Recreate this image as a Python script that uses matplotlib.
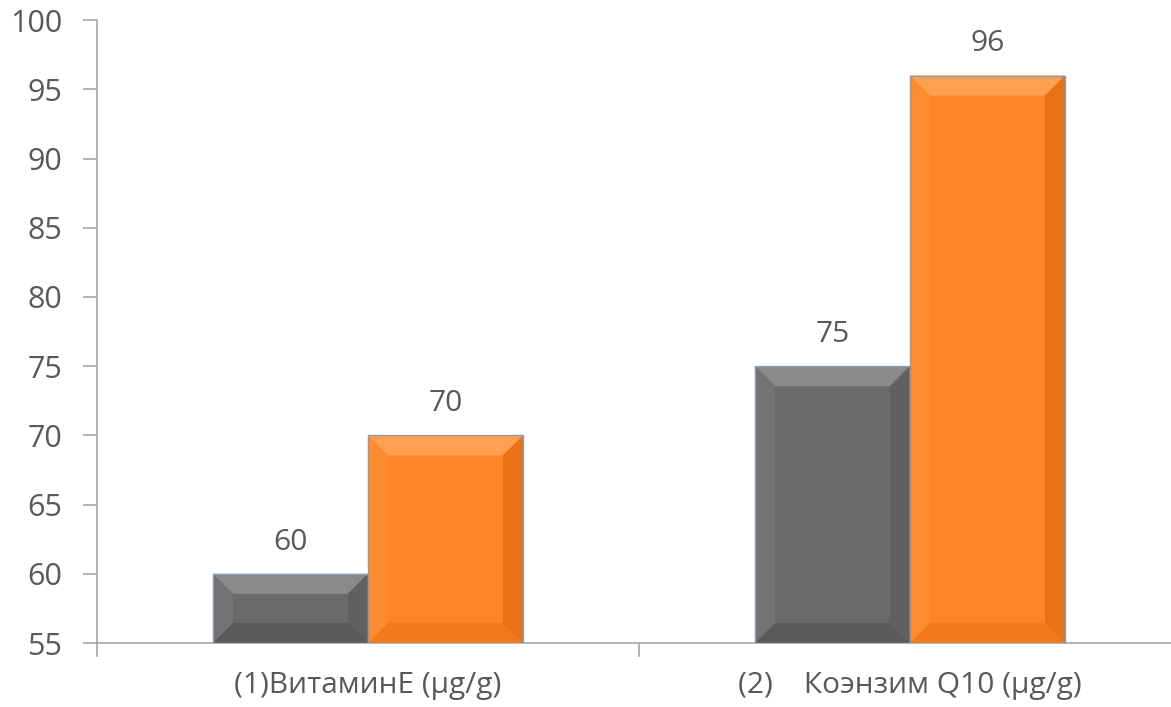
import matplotlib.pyplot as plt
from matplotlib.patches import Polygon

plt.rcParams['font.family'] = ['Open Sans', 'DejaVu Sans']

categories = ["(1)ВитаминE (µg/g)", "(2)    Коэнзим Q10 (µg/g)"]
series_gray = [60, 75]
series_orange = [70, 96]
y_ticks = [55, 60, 65, 70, 75, 80, 85, 90, 95, 100]

text_col = "#595959"
axis_col = "#a6a6a6"

# face colours for the bevel: centre, top, bottom, left, right
gray_faces = ["#6a6a6a", "#8a8a8a", "#5a5a5a", "#737373", "#606060"]
orange_faces = ["#fd8526", "#fea050", "#f27a1a", "#fd8b30", "#e87217"]

fig = plt.figure(figsize=(11.71, 7.07), dpi=100)
# axis runs a little past the right edge of the picture, as in the original
ax = fig.add_axes([0.0828, 0.0905, 0.9257, 0.881])

centers = [0.5, 1.5]
w = 0.286
base = 55


def bevel(bar, faces):
    x0 = bar.get_x()
    x1 = x0 + bar.get_width()
    y0 = base
    y1 = bar.get_y() + bar.get_height()
    dx, dy = 0.037, 1.45
    xi0, xi1, yi0, yi1 = x0 + dx, x1 - dx, y0 + dy, y1 - dy
    polys = [
        ([(xi0, yi0), (xi1, yi0), (xi1, yi1), (xi0, yi1)], faces[0]),
        ([(x0, y1), (x1, y1), (xi1, yi1), (xi0, yi1)], faces[1]),
        ([(x0, y0), (x1, y0), (xi1, yi0), (xi0, yi0)], faces[2]),
        ([(x0, y0), (xi0, yi0), (xi0, yi1), (x0, y1)], faces[3]),
        ([(x1, y0), (xi1, yi0), (xi1, yi1), (x1, y1)], faces[4]),
    ]
    for pts, c in polys:
        ax.add_patch(Polygon(pts, closed=True, facecolor=c, edgecolor="none", zorder=3))
    ax.add_patch(Polygon([(x0, y0), (x1, y0), (x1, y1), (x0, y1)], closed=True,
                         facecolor="none", edgecolor="#8a9ab5", linewidth=1.0, zorder=4))


bars_g = ax.bar([c - w / 2 for c in centers], [v - base for v in series_gray], w,
                bottom=base, color=gray_faces[0], zorder=2)
bars_o = ax.bar([c + w / 2 for c in centers], [v - base for v in series_orange], w,
                bottom=base, color=orange_faces[0], zorder=2)

for b, v in zip(bars_g, series_gray):
    bevel(b, gray_faces)
    ax.text(b.get_x() + w / 2, v + 1.25, str(v), ha="center", va="bottom",
            fontsize=21.5, color=text_col)
for b, v in zip(bars_o, series_orange):
    bevel(b, orange_faces)
    ax.text(b.get_x() + w / 2, v + 1.25, str(v), ha="center", va="bottom",
            fontsize=21.5, color=text_col)

ax.set_xlim(0, 2)
ax.set_ylim(55, 100)
ax.set_yticks(y_ticks)
ax.set_yticklabels([str(t) for t in y_ticks], fontsize=22, color=text_col)

ax.set_xticks([0, 1, 2])
ax.set_xticklabels([])
ax.set_xticks(centers, minor=True)
ax.set_xticklabels(categories, minor=True, fontsize=21.5, color=text_col)
ax.tick_params(axis="x", which="minor", length=0, pad=20)
ax.tick_params(axis="x", which="major", length=10, color=axis_col, width=1.2)
ax.tick_params(axis="y", length=10, color=axis_col, width=1.2, pad=15)

for s in ["top", "right"]:
    ax.spines[s].set_visible(False)
for s in ["left", "bottom"]:
    ax.spines[s].set_color(axis_col)
    ax.spines[s].set_linewidth(1.2)

fig.savefig("out.png", dpi=100)
